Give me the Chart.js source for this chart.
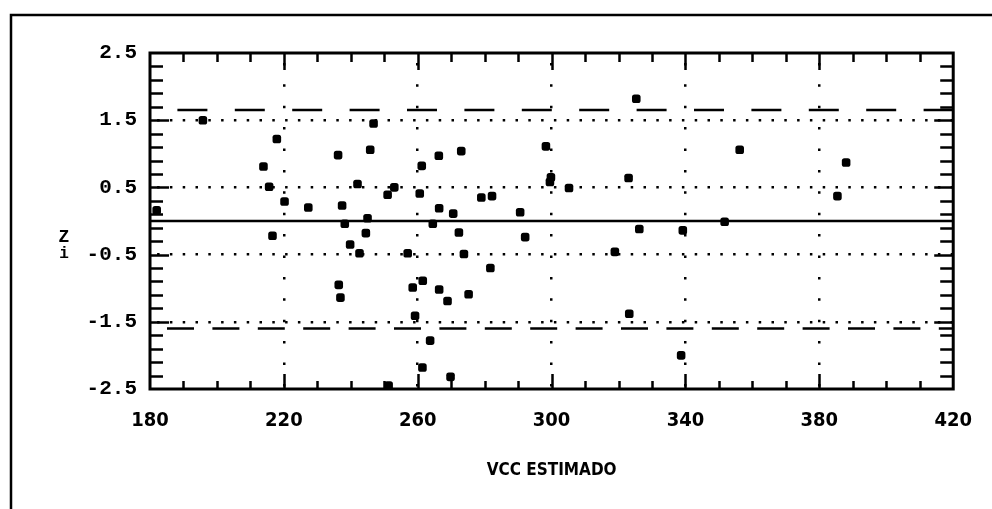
<!DOCTYPE html>
<html>
<head>
<meta charset="utf-8">
<script src="https://cdn.jsdelivr.net/npm/chart.js@4.4.1/dist/chart.umd.min.js"></script>
<style>
  html, body { margin: 0; padding: 0; background: #fff; }
  #wrap { position: relative; width: 992px; height: 509px; }
</style>
</head>
<body>
<div id="wrap"><canvas id="c" width="992" height="509"></canvas></div>
<script>
// Estimated VCC and standardised residual z_i for each observation
const vccEstimado = [182, 195.8, 213.9, 215.6, 216.6, 217.9, 220.2, 227.3, 236.2, 236.4,
  236.9, 237.4, 238.2, 239.8, 242, 242.6, 244.5, 245, 245.8, 246.8,
  251, 251.3, 253, 257, 258.5, 259.2, 260.6, 261.2, 261.4, 261.5,
  263.7, 264.5, 266.3, 266.4, 266.4, 268.9, 269.8, 270.6, 272.3, 273,
  273.8, 275.2, 279, 281.7, 282.2, 290.6, 292.1, 298.3, 299.5, 299.8,
  305.2, 318.9, 323, 323.2, 325.3, 326.2, 338.7, 339.2, 351.7, 356.2,
  385.4, 388];
const zi = [0.16, 1.50, 0.81, 0.51, -0.22, 1.22, 0.29, 0.20, 0.98, -0.95,
  -1.14, 0.23, -0.04, -0.35, 0.55, -0.48, -0.18, 0.04, 1.06, 1.45,
  0.39, -2.45, 0.50, -0.48, -0.99, -1.41, 0.41, 0.82, -2.18, -0.89,
  -1.78, -0.04, 0.97, 0.19, -1.02, -1.19, -2.32, 0.11, -0.17, 1.04,
  -0.49, -1.09, 0.35, -0.70, 0.37, 0.13, -0.24, 1.11, 0.58, 0.65,
  0.49, -0.46, 0.64, -1.38, 1.82, -0.12, -2.00, -0.14, -0.01, 1.06,
  0.37, 0.87];

const xTicks = [180, 220, 260, 300, 340, 380, 420];
const yTicks = [-2.5, -1.5, -0.5, 0.5, 1.5, 2.5];
const xRange = [180, 420];
const yRange = [-2.5, 2.5];
const zeroLevel = 0;
const upperLimit = 1.65;
const lowerLimit = -1.6;

const points = vccEstimado.map((x, i) => ({ x: x, y: zi[i] }));
const hLine = (y) => [{ x: xRange[0], y: y }, { x: xRange[1], y: y }];

const monoBold = "'Liberation Mono', 'DejaVu Sans Mono', monospace";
const narrowBold = "'Liberation Sans Narrow', 'DejaVu Sans Condensed', 'Liberation Sans', sans-serif";

// Frame, inward tick marks and the stacked "Z i" axis label
const framePlugin = {
  id: 'frame',
  afterDatasetsDraw(chart) {
    const { ctx, chartArea: a, scales: { x, y } } = chart;
    ctx.save();
    ctx.strokeStyle = '#000';
    ctx.lineCap = 'butt';

    // page border (top and left)
    ctx.lineWidth = 2.5;
    ctx.beginPath();
    ctx.moveTo(11, 509);
    ctx.lineTo(11, 15);
    ctx.lineTo(992, 15);
    ctx.stroke();

    // plot box
    ctx.lineWidth = 3;
    ctx.strokeRect(a.left, a.top, a.right - a.left, a.bottom - a.top);

    // y ticks every 0.2, on both sides
    ctx.lineWidth = 2.5;
    for (let k = 1; k < 25; k++) {
      const v = yRange[1] - k * 0.2;
      const py = Math.round(y.getPixelForValue(v)) + 0.5;
      const len = (k % 5 === 0) ? 19 : 13;
      ctx.beginPath();
      ctx.moveTo(a.left, py); ctx.lineTo(a.left + len, py);
      ctx.moveTo(a.right, py); ctx.lineTo(a.right - len, py);
      ctx.stroke();
    }
    // x ticks every 10, top and bottom
    for (let v = xRange[0] + 10; v < xRange[1]; v += 10) {
      const px = Math.round(x.getPixelForValue(v)) + 0.5;
      const major = (v - xRange[0]) % 40 === 0;
      ctx.beginPath();
      ctx.moveTo(px, a.top); ctx.lineTo(px, a.top + (major ? 17 : 9));
      ctx.moveTo(px, a.bottom); ctx.lineTo(px, a.bottom - (major ? 15 : 8));
      ctx.stroke();
    }

    // axis label Z over i
    ctx.fillStyle = '#000';
    ctx.textAlign = 'center';
    ctx.textBaseline = 'middle';
    ctx.font = 'bold 18px ' + monoBold;
    ctx.fillText('Z', 64, 237);
    ctx.font = 'bold 16px ' + monoBold;
    ctx.fillText('i', 64, 254);
    ctx.restore();
  }
};

const hideEnds = (ends) => (c) =>
  (c.tick && ends.includes(c.tick.value)) ? 'rgba(0,0,0,0)' : '#000';

new Chart(document.getElementById('c'), {
  data: {
    datasets: [
      {
        type: 'scatter',
        data: points,
        pointStyle: 'rectRounded',
        pointRadius: 5,
        pointBackgroundColor: '#000',
        pointBorderWidth: 0
      },
      {
        type: 'line',
        data: hLine(zeroLevel),
        borderColor: '#000',
        borderWidth: 2.5,
        pointRadius: 0
      },
      {
        type: 'line',
        data: hLine(upperLimit),
        borderColor: '#000',
        borderWidth: 2.5,
        borderDash: [30, 27.4],
        borderDashOffset: 30,
        pointRadius: 0
      },
      {
        type: 'line',
        data: hLine(lowerLimit),
        borderColor: '#000',
        borderWidth: 2.5,
        borderDash: [27, 18.4],
        borderDashOffset: 28.4,
        pointRadius: 0
      }
    ]
  },
  options: {
    responsive: false,
    animation: false,
    events: [],
    layout: { padding: { top: 53, right: 34, left: 0, bottom: 0 } },
    plugins: { legend: { display: false }, tooltip: { enabled: false } },
    scales: {
      x: {
        type: 'linear',
        min: xRange[0],
        max: xRange[1],
        afterBuildTicks: (s) => { s.ticks = xTicks.map(v => ({ value: v })); },
        afterFit: (s) => { s.height = 120; },
        grid: {
          color: hideEnds([xRange[0], xRange[1]]),
          lineWidth: 2.5,
          drawTicks: false
        },
        border: { display: false, dash: [2.5, 18.9], dashOffset: 11.5 },
        ticks: {
          color: '#000',
          padding: 20,
          maxRotation: 0,
          font: { family: narrowBold, size: 20, weight: 'bold' },
          callback: (v) => String(v)
        },
        title: {
          display: true,
          text: 'VCC ESTIMADO',
          color: '#000',
          font: { family: narrowBold, size: 17, weight: 'bold' },
          padding: { top: 0, bottom: 28 }
        }
      },
      y: {
        type: 'linear',
        min: yRange[0],
        max: yRange[1],
        afterBuildTicks: (s) => { s.ticks = yTicks.map(v => ({ value: v })); },
        afterFit: (s) => { s.width = 150; },
        grid: {
          color: hideEnds([yRange[0], yRange[1]]),
          lineWidth: 2.5,
          drawTicks: false
        },
        border: { display: false, dash: [2.5, 10.3], dashOffset: 5.7 },
        ticks: {
          color: '#000',
          padding: 13,
          font: { family: monoBold, size: 21, weight: 'bold' },
          callback: (v) => Number(v).toFixed(1)
        }
      }
    }
  },
  plugins: [framePlugin]
});
</script>
</body>
</html>
